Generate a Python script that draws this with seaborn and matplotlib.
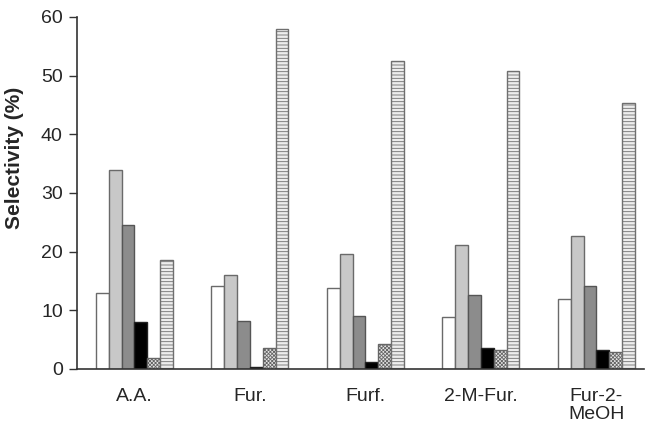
import numpy as np
import pandas as pd
import matplotlib
matplotlib.use("Agg")
import matplotlib.pyplot as plt
import seaborn as sns

# Product selectivities (%) for each feed compound
compounds = ["A.A.", "Fur.", "Furf.", "2-M-Fur.", "Fur-2-\nMeOH"]
series_names = ["P1", "P2", "P3", "P4", "P5", "P6"]
p1 = [13.0, 14.1, 13.7, 8.8, 11.9]
p2 = [33.9, 16.0, 19.6, 21.2, 22.7]
p3 = [24.5, 8.2, 9.0, 12.6, 14.1]
p4 = [8.0, 0.4, 1.2, 3.5, 3.2]
p5 = [1.9, 3.5, 4.2, 3.2, 2.9]
p6 = [18.5, 58.0, 52.5, 50.8, 45.3]
y_ticks = [0, 10, 20, 30, 40, 50, 60]

sns.set_style("white")
plt.rcParams["font.family"] = ["Liberation Sans", "DejaVu Sans"]
plt.rcParams["hatch.linewidth"] = 0.6

rows = []
for name, vals in zip(series_names, [p1, p2, p3, p4, p5, p6]):
    for c, v in zip(compounds, vals):
        rows.append({"compound": c, "series": name, "value": v})
df = pd.DataFrame(rows)

fig = plt.figure(figsize=(6.45, 4.23), dpi=100)
ax = fig.add_axes([0.119, 0.128, 0.879, 0.832])

sns.barplot(data=df, x="compound", y="value", hue="series", order=compounds,
            hue_order=series_names, width=0.667, ax=ax, legend=False,
            errorbar=None, saturation=1)

faces = ["white", "#c8c8c8", "#8c8c8c", "black", "#e6e6e6", "#ededed"]
edges = ["#6a6a6a", "#6a6a6a", "#555555", "#222222", "#666666", "#6f6f6f"]
hatches = [None, None, None, None, "xxxxxxxxx", "-----"]
for cont, fc, ec, h in zip(ax.containers, faces, edges, hatches):
    for bar in cont:
        bar.set_facecolor(fc)
        bar.set_edgecolor(ec)
        bar.set_linewidth(1.0)
        if h:
            bar.set_hatch(h)

ax.set_xlim(-0.5, 4.41)
ax.set_ylim(0, 60)
ax.set_yticks(y_ticks)
ax.set_xlabel("")
ax.set_ylabel("Selectivity (%)", fontsize=15, fontweight="bold")
ax.yaxis.set_label_coords(-0.093, 0.6)
ax.tick_params(axis="y", labelsize=14, length=6, width=1, direction="out",
               left=True, color="#333333", pad=4)
ax.tick_params(axis="x", labelsize=14, length=0, pad=14)
for lbl in ax.get_xticklabels():
    lbl.set_linespacing(1.05)
    lbl.set_verticalalignment("top")

sns.despine(ax=ax, top=True, right=True)
for s in ["left", "bottom"]:
    ax.spines[s].set_color("#333333")
    ax.spines[s].set_linewidth(1.2)

fig.savefig("out.png", dpi=100, facecolor="white")
